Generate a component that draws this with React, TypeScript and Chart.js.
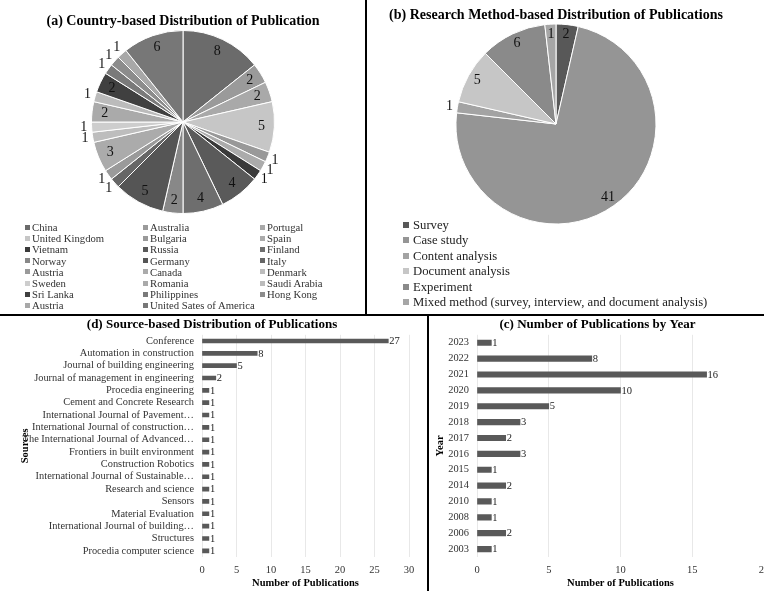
import React, { useEffect, useRef } from "react";
import { Chart, registerables } from "chart.js";
Chart.register(...registerables);

const FONT = "'Liberation Serif', 'Times New Roman', serif";

// (a) countries
const countryLabels = ["China", "Australia", "Portugal", "United Kingdom", "Bulgaria", "Spain", "Vietnam", "Russia", "Finland", "Norway", "Germany", "Italy", "Austria", "Canada", "Denmark", "Sweden", "Romania", "Saudi Arabia", "Sri Lanka", "Philippines", "Hong Kong", "Austria", "United Sates of America"];
const countryValues = [8, 2, 2, 5, 1, 1, 1, 4, 4, 2, 5, 1, 1, 3, 1, 1, 2, 1, 2, 1, 1, 1, 6];
const countryColors = ["#6b6b6b", "#9a9a9a", "#a9a9a9", "#c6c6c6", "#999999", "#ababab", "#3a3a3a", "#5a5a5a", "#6e6e6e", "#888888", "#555555", "#666666", "#9a9a9a", "#ababab", "#bdbdbd", "#cdcdcd", "#aaaaaa", "#bbbbbb", "#404040", "#7a7a7a", "#8c8c8c", "#a8a8a8", "#777777"];

// (b) research methods
const methodLabels = ["Survey", "Case study", "Content analysis", "Document analysis", "Experiment", "Mixed method (survey, interview, and document analysis)"];
const methodValues = [2, 41, 1, 5, 6, 1];
const methodColors = ["#585858", "#959595", "#a3a3a3", "#c6c6c6", "#8a8a8a", "#a6a6a6"];

// (d) sources
const sourceLabels = ["Conference", "Automation in construction", "Journal of building engineering", "Journal of management in engineering", "Procedia engineering", "Cement and Concrete Research", "International Journal of Pavement…", "International Journal of construction…", "The International Journal of Advanced…", "Frontiers in built environment", "Construction Robotics", "International Journal of Sustainable…", "Research and science", "Sensors", "Material Evaluation", "International Journal of building…", "Structures", "Procedia computer science"];
const sourceValues = [27, 8, 5, 2, 1, 1, 1, 1, 1, 1, 1, 1, 1, 1, 1, 1, 1, 1];

// (c) years
const yearLabels = ["2023", "2022", "2021", "2020", "2019", "2018", "2017", "2016", "2015", "2014", "2010", "2008", "2006", "2003"];
const yearValues = [1, 8, 16, 10, 5, 3, 2, 3, 1, 2, 1, 1, 2, 1];

const pieLabelPlugin = {
  id: "pieLabels",
  afterDatasetsDraw(chart: any, _args: any, opts: any) {
    const meta = chart.getDatasetMeta(0);
    const data = chart.data.datasets[0].data;
    const ctx = chart.ctx;
    ctx.save();
    ctx.font = `${opts.size}px ${FONT}`;
    ctx.fillStyle = "#111";
    ctx.textAlign = "center";
    ctx.textBaseline = "middle";
    const outIdx: number[] = opts.outsideIdx || [];
    meta.data.forEach((arc: any, i: number) => {
      const p = arc.getProps(["x", "y", "startAngle", "endAngle", "outerRadius"], true);
      const mid = (p.startAngle + p.endAngle) / 2;
      const v = data[i];
      const out = v < opts.minInside || outIdx.includes(i);
      const r = out ? p.outerRadius + opts.outside : p.outerRadius * opts.inside;
      ctx.fillText(String(v), p.x + Math.cos(mid) * r, p.y + Math.sin(mid) * r);
    });
    ctx.restore();
  },
};

const barValuePlugin = {
  id: "barValues",
  afterDatasetsDraw(chart: any, _args: any, opts: any) {
    const meta = chart.getDatasetMeta(0);
    const data = chart.data.datasets[0].data;
    const ctx = chart.ctx;
    ctx.save();
    ctx.font = `${opts.size}px ${FONT}`;
    ctx.fillStyle = "#222";
    ctx.textAlign = "left";
    ctx.textBaseline = "middle";
    meta.data.forEach((bar: any, i: number) => {
      ctx.fillText(String(data[i]), bar.x + 1, bar.y + 0.5);
    });
    ctx.restore();
  },
};

function pieConfig(labels: string[], values: number[], colors: string[], title: string, o: any) {
  return {
    type: "pie",
    data: {
      labels,
      datasets: [{ data: values, backgroundColor: colors, borderColor: "#ffffff", borderWidth: 1, hoverOffset: 0, offset: 0 }],
    },
    options: {
      responsive: false,
      animation: false,
      events: [],
      layout: { padding: o.pad },
      plugins: {
        legend: { display: false },
        tooltip: { enabled: false },
        title: {
          display: true,
          text: title,
          color: "#000",
          font: { family: FONT, size: 14, weight: "bold", lineHeight: 1.2 },
          padding: o.titlePad,
        },
        pieLabels: o.labels,
      },
    },
    plugins: [pieLabelPlugin],
  };
}

function barConfig(labels: string[], values: number[], title: string, o: any) {
  return {
    type: "bar",
    data: {
      labels,
      datasets: [{ data: values, backgroundColor: "#595959", barThickness: o.thick }],
    },
    options: {
      indexAxis: "y",
      responsive: false,
      animation: false,
      events: [],
      layout: { padding: { left: o.padL, right: o.padR, top: 0, bottom: o.padB } },
      scales: {
        x: {
          min: 0,
          max: o.max,
          ticks: { stepSize: 5, color: "#333", padding: 8.25, font: { family: FONT, size: 10.5, lineHeight: 1 } },
          grid: { color: "#e8e8e8", drawTicks: false },
          border: { display: false },
          title: {
            display: true,
            text: "Number of Publications",
            color: "#000",
            font: { family: FONT, size: 10.5, weight: "bold", lineHeight: 1 },
            padding: { top: 0, bottom: 0 },
          },
          afterFit: (s: any) => {
            s.height = 31.25;
            s.paddingLeft = 0;
            s.paddingRight = 0;
          },
        },
        y: {
          ticks: { color: "#333", padding: 8, autoSkip: false, font: { family: FONT, size: 10.4, lineHeight: 1 } },
          grid: { display: false, drawTicks: false },
          border: { display: false },
          title: {
            display: true,
            text: o.yTitle,
            color: "#000",
            font: { family: FONT, size: 10.5, weight: "bold", lineHeight: 1 },
            padding: { top: o.yTitlePad, bottom: 0 },
          },
          afterFit: (s: any) => {
            s.width = o.yWidth;
            s.paddingTop = 0;
            s.paddingBottom = 0;
          },
        },
      },
      plugins: {
        legend: { display: false },
        tooltip: { enabled: false },
        title: {
          display: true,
          text: title,
          color: "#000",
          font: { family: FONT, size: 13, weight: "bold", lineHeight: 1.2 },
          padding: { top: 3.2, bottom: 2 },
        },
        barValues: { size: 10.5 },
      },
    },
    plugins: [barValuePlugin],
  };
}

function ChartBox({ left, top, width, height, make }: any) {
  const ref = useRef<HTMLCanvasElement>(null);
  useEffect(() => {
    const chart = new Chart(ref.current as HTMLCanvasElement, make() as any);
    return () => chart.destroy();
  }, []);
  return (
    <div style={{ position: "absolute", left, top, width, height }}>
      <canvas ref={ref} width={width} height={height} style={{ display: "block", width, height }} />
    </div>
  );
}

function Line({ left, top, width, height }: any) {
  return <div style={{ position: "absolute", left, top, width, height, background: "#000" }} />;
}

export default function App() {
  return (
    <div style={{ position: "fixed", left: 0, top: 0, width: 764, height: 591, background: "#fff", overflow: "hidden", fontFamily: FONT }}>
      <ChartBox
        left={0}
        top={0}
        width={380}
        height={222}
        make={() =>
          pieConfig(countryLabels, countryValues, countryColors, "(a) Country-based Distribution of Publication", {
            pad: { top: 4.6, bottom: 8, left: 0, right: 14 },
            titlePad: { top: 8.6, bottom: 0 },
            labels: { size: 14, inside: 0.86, outside: 8, minInside: 2, outsideIdx: [] },
          })
        }
      />
      <ChartBox
        left={368}
        top={0}
        width={370}
        height={226}
        make={() =>
          pieConfig(methodLabels, methodValues, methodColors, "(b) Research Method-based Distribution of Publications", {
            pad: { top: 2.6, bottom: 1.5, left: 6, right: 0 },
            titlePad: { top: 4.1, bottom: 0 },
            labels: { size: 14, inside: 0.9, outside: 8, minInside: 1, outsideIdx: [2] },
          })
        }
      />
      {countryLabels.map((l, i) => (
        <div
          key={"a" + i}
          style={{
            position: "absolute",
            left: [25, 143, 260][i % 3],
            top: 227 + Math.floor(i / 3) * 11.2 - 6,
            height: 12,
            display: "flex",
            alignItems: "center",
            fontSize: 10.7,
            lineHeight: "12px",
            color: "#333",
            whiteSpace: "nowrap",
          }}
        >
          <span style={{ display: "inline-block", width: 5, height: 5, background: countryColors[i], marginRight: 2 }} />
          {l}
        </div>
      ))}
      {methodLabels.map((l, i) => (
        <div
          key={"b" + i}
          style={{
            position: "absolute",
            left: 403,
            top: 225 + i * 15.4 - 8,
            height: 16,
            display: "flex",
            alignItems: "center",
            fontSize: 12.7,
            lineHeight: "16px",
            color: "#222",
            whiteSpace: "nowrap",
          }}
        >
          <span style={{ display: "inline-block", width: 6, height: 6, background: methodColors[i], marginRight: 4 }} />
          {l}
        </div>
      ))}
      <ChartBox
        left={0}
        top={314}
        width={427}
        height={277}
        make={() =>
          barConfig(sourceLabels, sourceValues, "(d) Source-based Distribution of Publications", {
            thick: 4,
            max: 30,
            padL: 15,
            padR: 18,
            padB: 2.75,
            yWidth: 187,
            yTitle: "Sources",
            yTitlePad: 4.75,
          })
        }
      />
      <ChartBox
        left={429}
        top={314}
        width={335}
        height={277}
        make={() =>
          barConfig(yearLabels, yearValues, "(c) Number of Publications by Year", {
            thick: 5.5,
            max: 20,
            padL: 2,
            padR: 0,
            padB: 2.75,
            yWidth: 46,
            yTitle: "Year",
            yTitlePad: 3.75,
          })
        }
      />
      <Line left={365} top={0} width={2} height={315} />
      <Line left={0} top={314} width={764} height={2} />
      <Line left={427} top={315} width={1.6} height={276} />
    </div>
  );
}
